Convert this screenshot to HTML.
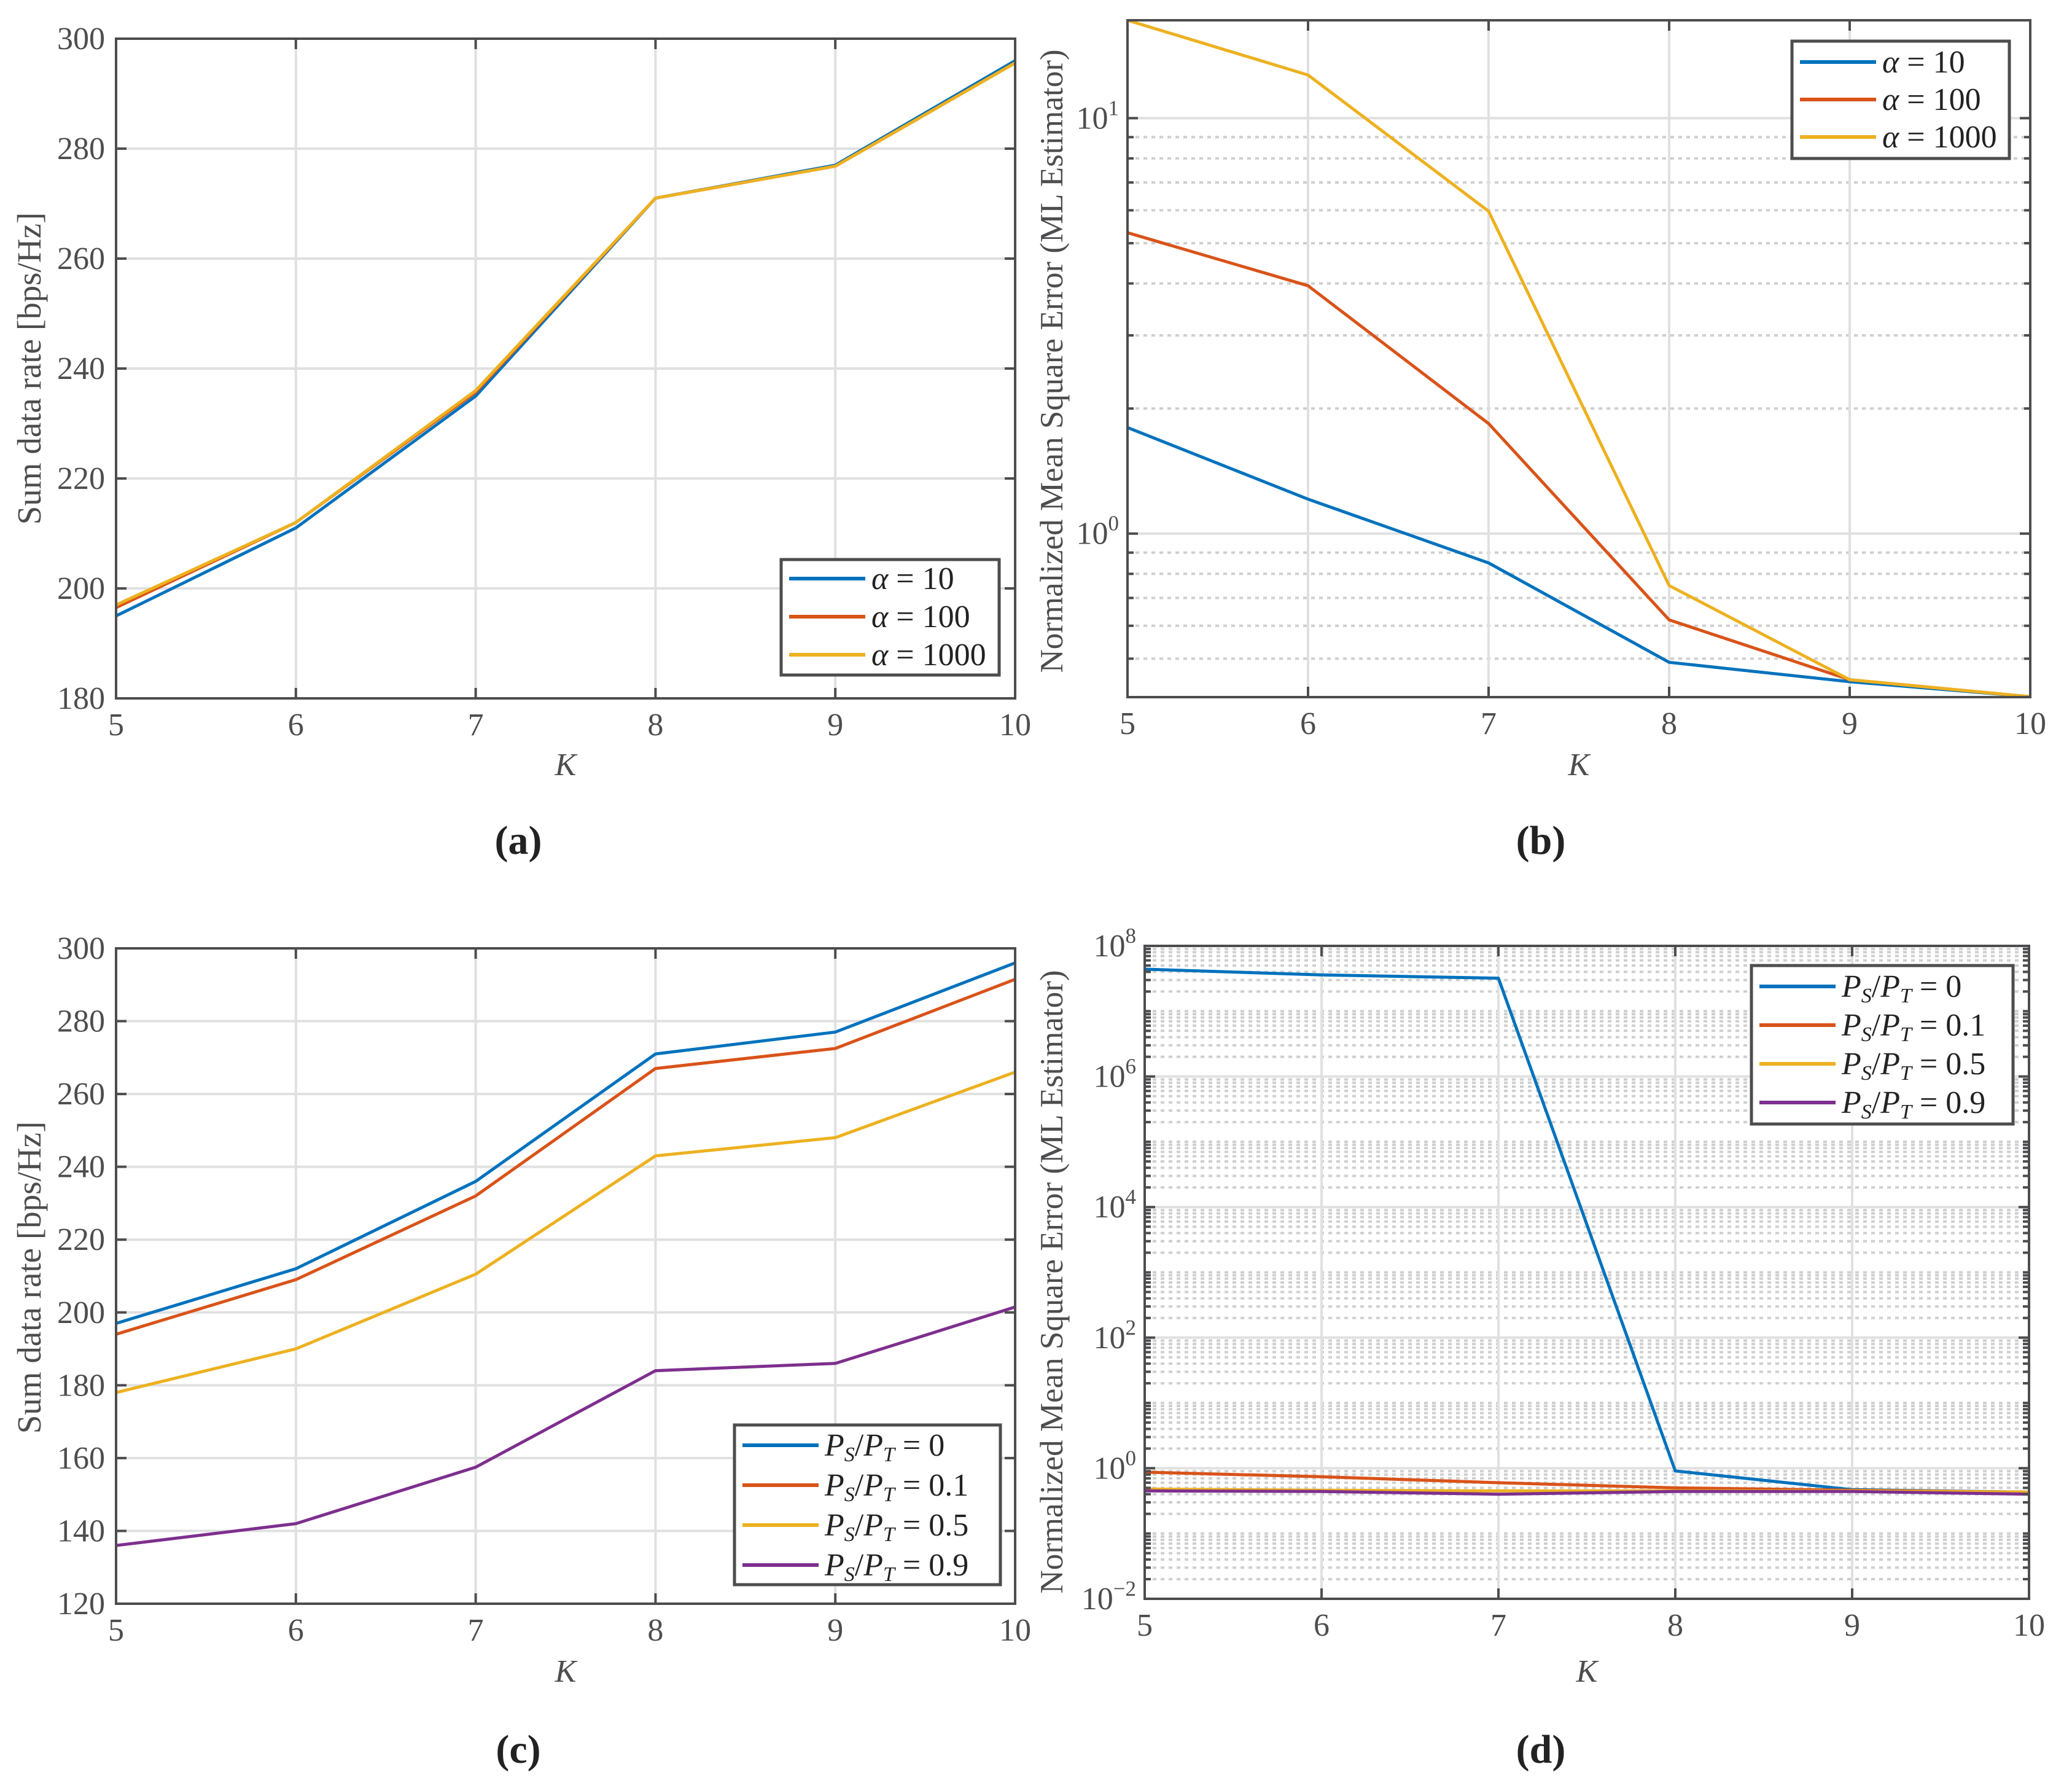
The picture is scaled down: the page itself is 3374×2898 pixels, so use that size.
<!DOCTYPE html>
<html><head><meta charset="utf-8"><style>
html,body{margin:0;padding:0;background:#fff;}
svg{display:block;font-family:"Liberation Serif",serif;}
</style></head><body>
<svg id="fig" width="3374" height="2898" viewBox="0 0 3374 2898" xmlns="http://www.w3.org/2000/svg"></svg>
<script>
const K = [5,6,7,8,9,10];
// panel (a)
const aAlpha10 = [195,211,235,271,277,296];
const aAlpha100 = [196.5,212,235.7,271,276.8,295.6];
const aAlpha1000 = [197,212,236,271,276.8,295.6];
const aYTicks = [180,200,220,240,260,280,300];
// panel (b)
const bAlpha10 = [1.80,1.21,0.85,0.49,0.44,0.405];
const bAlpha100 = [5.3,3.95,1.84,0.62,0.445,0.405];
const bAlpha1000 = [17.2,12.7,5.97,0.75,0.445,0.405];
// panel (c)
const cPs0 = [197,212,236,271,277,296];
const cPs01 = [194,209,232,267,272.5,291.5];
const cPs05 = [178,190,210.5,243,248,266];
const cPs09 = [136,142,157.5,184,186,201.5];
const cYTicks = [120,140,160,180,200,220,240,260,280,300];
// panel (d)
const dPs0 = [4.4e7,3.6e7,3.2e7,0.91,0.47,0.43];
const dPs01 = [0.87,0.74,0.6,0.5,0.46,0.43];
const dPs05 = [0.48,0.46,0.45,0.45,0.45,0.43];
const dPs09 = [0.45,0.44,0.40,0.44,0.44,0.40];
const dYExp = [-2,0,2,4,6,8];

const NS="http://www.w3.org/2000/svg";
const svg=document.getElementById('fig');
const COLORS=['#0072BD','#D95319','#EDB120','#7E2F8E'];
const AX='#4d4d4f';
function mk(tag,attrs,parent){const e=document.createElementNS(NS,tag);for(const k in attrs)e.setAttribute(k,attrs[k]);(parent||svg).appendChild(e);return e;}

function panel(p){
  const g=mk('g',{});
  
  
  const sx=v=>p.x0+(v-5)/5*(p.x1-p.x0);
  const sy=p.log?(v=>p.y1-(Math.log10(v)-Math.log10(p.ymin))/(Math.log10(p.ymax)-Math.log10(p.ymin))*(p.y1-p.y0))
                :(v=>p.y1-(v-p.ymin)/(p.ymax-p.ymin)*(p.y1-p.y0));
  const grid=mk('g',{},g);
  
  
  const minors=[],majors=[];
  if(p.log){
    const e0=Math.floor(Math.log10(p.ymin)),e1=Math.ceil(Math.log10(p.ymax));
    for(let e=e0;e<=e1;e++){for(let m=1;m<=9;m++){const v=m*Math.pow(10,e);if(v<p.ymin*0.999||v>p.ymax*1.001)continue;
      if(m===1&&p.majorExp.includes(e))majors.push(v);else minors.push(v);}}
    minors.forEach(v=>{const l=mk('line',{x1:p.x0,x2:p.x1,y1:sy(v),y2:sy(v),stroke:'#cfcfcf','stroke-width':4,'stroke-dasharray':'6 7'},grid);
      
      });
  } else p.yticks.forEach(v=>majors.push(v));
  majors.forEach(v=>{const l=mk('line',{x1:p.x0,x2:p.x1,y1:sy(v),y2:sy(v),stroke:'#e0e0e0','stroke-width':4},grid);
    
    });
  K.forEach(k=>{const l=mk('line',{x1:sx(k),x2:sx(k),y1:p.y0,y2:p.y1,stroke:'#e0e0e0','stroke-width':4},grid);
    
    });
  p.series.forEach((s,i)=>{
    const d=K.map((k,j)=>(j?'L':'M')+sx(k).toFixed(1)+' '+sy(s.vals[j]).toFixed(1)).join(' ');
    const path=mk('path',{d:d,fill:'none',stroke:COLORS[i],'stroke-width':5,'stroke-linejoin':'round'},g);
    
    
  });
  const box=mk('rect',{x:p.x0,y:p.y0,width:p.x1-p.x0,height:p.y1-p.y0,fill:'none',stroke:AX,'stroke-width':4},g);
  
  
  K.forEach(k=>{
    mk('line',{x1:sx(k),x2:sx(k),y1:p.y1,y2:p.y1-17,stroke:AX,'stroke-width':4},g);
    mk('line',{x1:sx(k),x2:sx(k),y1:p.y0,y2:p.y0+17,stroke:AX,'stroke-width':4},g);
    const t=mk('text',{x:sx(k),y:p.y1+60,'text-anchor':'middle','font-size':52,fill:AX},g);
    t.textContent=k;
    
    
  });
  majors.forEach(v=>{
    mk('line',{x1:p.x0,x2:p.x0+17,y1:sy(v),y2:sy(v),stroke:AX,'stroke-width':4},g);
    mk('line',{x1:p.x1,x2:p.x1-17,y1:sy(v),y2:sy(v),stroke:AX,'stroke-width':4},g);
    const t=mk('text',{x:p.x0-18,y:sy(v)+17,'text-anchor':'end','font-size':52,fill:AX},g);
    if(p.log){const e=Math.round(Math.log10(v));
      const a=mk('tspan',{},t);a.textContent='10';
      const b=mk('tspan',{dy:-22,'font-size':35},t);b.textContent=(e<0?'\u2212':'')+Math.abs(e);
      t.setAttribute('x',p.x0-14);
    } else t.textContent=v;
    
    
  });
  if(p.log) minors.forEach(v=>{
    mk('line',{x1:p.x0,x2:p.x0+10,y1:sy(v),y2:sy(v),stroke:AX,'stroke-width':4},g);
    mk('line',{x1:p.x1,x2:p.x1-10,y1:sy(v),y2:sy(v),stroke:AX,'stroke-width':4},g);
  });
  const xl=mk('text',{x:(p.x0+p.x1)/2,y:p.xLabelY,'text-anchor':'middle','font-size':52,'font-style':'italic',fill:AX},g);
  xl.textContent='K';
  
  
  const yl=mk('text',{x:0,y:0,'text-anchor':'middle','font-size':p.yLabelSize,fill:AX,transform:`translate(${p.yLabelX},${p.yLabelY}) rotate(-90)`},g);
  yl.textContent=p.yLabel;
  
  
  const cap=mk('text',{x:p.capX,y:p.capY,'text-anchor':'middle','font-size':66,'font-weight':'bold',fill:'#222'},g);
  cap.textContent=p.caption;
  
  
  const L=p.legend;
  const lg=mk('g',{},g);
  
  
  mk('rect',{x:L.x,y:L.y,width:L.w,height:L.h,fill:'#fff',stroke:AX,'stroke-width':5},lg);
  p.series.forEach((s,i)=>{
    const cy=L.y+L.pad+i*L.step;
    const row=mk('g',{},lg);
    
    
    mk('line',{x1:L.x+13,x2:L.x+137,y1:cy,y2:cy,stroke:COLORS[i],'stroke-width':6},row);
    const t=mk('text',{x:L.x+147,y:cy+17,'font-size':52,fill:'#222'},row);
    if(s.ps){
      const a=mk('tspan',{'font-style':'italic'},t);a.textContent='P';
      const b=mk('tspan',{'font-style':'italic','font-size':34,dy:9},t);b.textContent='S';
      const c=mk('tspan',{dy:-9},t);c.textContent='/';
      const d=mk('tspan',{'font-style':'italic'},t);d.textContent='P';
      const e=mk('tspan',{'font-style':'italic','font-size':34,dy:9},t);e.textContent='T';
      const f=mk('tspan',{dy:-9},t);f.textContent=' = '+s.label;
    } else {
      const a=mk('tspan',{'font-style':'italic'},t);a.textContent='\u03B1';
      const b=mk('tspan',{},t);b.textContent=' = '+s.label;
    }
  });
}

panel({name:'panel-a-sum-rate-alpha',x0:189,x1:1653,y0:63,y1:1137,ymin:180,ymax:300,yticks:aYTicks,log:false,
  series:[{key:'alpha-10',vals:aAlpha10,label:'10'},{key:'alpha-100',vals:aAlpha100,label:'100'},{key:'alpha-1000',vals:aAlpha1000,label:'1000'}],
  xLabelY:1262,yLabel:'Sum data rate [bps/Hz]',yLabelSize:55,yLabelX:66,yLabelY:600,caption:'(a)',capX:844,capY:1390,
  legend:{x:1272,y:911,w:355,h:188,pad:31,step:62}});
panel({name:'panel-b-nmse-alpha',x0:1836,x1:3306,y0:33,y1:1135,ymin:0.404,ymax:17.2,majorExp:[0,1],log:true,
  series:[{key:'alpha-10',vals:bAlpha10,label:'10'},{key:'alpha-100',vals:bAlpha100,label:'100'},{key:'alpha-1000',vals:bAlpha1000,label:'1000'}],
  xLabelY:1262,yLabel:'Normalized Mean Square Error (ML Estimator)',yLabelSize:53,yLabelX:1730,yLabelY:588,caption:'(b)',capX:2509,capY:1390,
  legend:{x:2918,y:67,w:354,h:191,pad:34,step:61}});
panel({name:'panel-c-sum-rate-power',x0:189,x1:1653,y0:1544,y1:2611,ymin:120,ymax:300,yticks:cYTicks,log:false,
  series:[{key:'ps-0',vals:cPs0,label:'0',ps:1},{key:'ps-0.1',vals:cPs01,label:'0.1',ps:1},{key:'ps-0.5',vals:cPs05,label:'0.5',ps:1},{key:'ps-0.9',vals:cPs09,label:'0.9',ps:1}],
  xLabelY:2738,yLabel:'Sum data rate [bps/Hz]',yLabelSize:55,yLabelX:66,yLabelY:2080,caption:'(c)',capX:844,capY:2870,
  legend:{x:1196,y:2320,w:433,h:260,pad:33,step:65}});
panel({name:'panel-d-nmse-power',x0:1864,x1:3304,y0:1540,y1:2603,ymin:0.01,ymax:1e8,majorExp:dYExp,log:true,
  series:[{key:'ps-0',vals:dPs0,label:'0',ps:1},{key:'ps-0.1',vals:dPs01,label:'0.1',ps:1},{key:'ps-0.5',vals:dPs05,label:'0.5',ps:1},{key:'ps-0.9',vals:dPs09,label:'0.9',ps:1}],
  xLabelY:2738,yLabel:'Normalized Mean Square Error (ML Estimator)',yLabelSize:53,yLabelX:1730,yLabelY:2087,caption:'(d)',capX:2509,capY:2870,
  legend:{x:2852,y:1572,w:426,h:258,pad:34,step:63}});
</script>
</body></html>
